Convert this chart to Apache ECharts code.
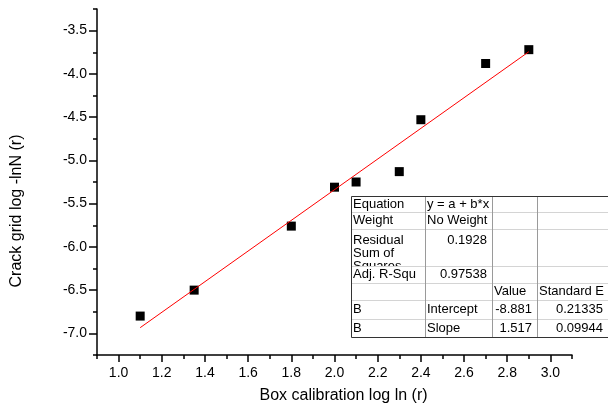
<!DOCTYPE html>
<html>
<head>
<meta charset="utf-8">
<script src="https://cdn.jsdelivr.net/npm/echarts@6/dist/echarts.min.js"></script>
<style>
  html, body { margin: 0; padding: 0; background: #fff; }
  #chart { width: 608px; height: 409px; }
</style>
</head>
<body>
<div id="chart"></div>
<script>
// measured points
var xData = [1.1, 1.35, 1.8, 2.0, 2.1, 2.3, 2.4, 2.7, 2.9];
var yData = [-6.8, -6.5, -5.76, -5.31, -5.25, -5.13, -4.53, -3.88, -3.72];

// fitted line as drawn
var fitX = [1.1, 2.9];
var fitY = [-6.934, -3.744];

// ticks
var xTicks = [1.0, 1.2, 1.4, 1.6, 1.8, 2.0, 2.2, 2.4, 2.6, 2.8, 3.0];
var xMinor = [0.9, 1.1, 1.3, 1.5, 1.7, 1.9, 2.1, 2.3, 2.5, 2.7, 2.9, 3.1];
var yTicks = [-7.0, -6.5, -6.0, -5.5, -5.0, -4.5, -4.0, -3.5];
var yMinor = [-7.25, -6.75, -6.25, -5.75, -5.25, -4.75, -4.25, -3.75, -3.25];

// fit table
var tableRows = [
  ['Equation', 'y = a + b*x', '', ''],
  ['Weight', 'No Weight', '', ''],
  ['Residual\nSum of\nSquares', '0.1928', '', ''],
  ['Adj. R-Squ', '0.97538', '', ''],
  ['', '', 'Value', 'Standard E'],
  ['B', 'Intercept', '-8.881', '0.21335'],
  ['B', 'Slope', '1.517', '0.09944']
];

var font = '"Liberation Sans", Arial, sans-serif';
var ink = '#000';

function buildTable() {
  var cols = [351, 425, 492, 537, 608];
  var rows = [196, 212, 229, 266, 283, 300, 319, 337];
  var els = [];
  els.push({ type: 'rect', shape: { x: cols[0], y: rows[0], width: cols[4] - cols[0], height: rows[7] - rows[0] },
    style: { fill: '#fff' }, z: 10 });
  tableRows.forEach(function(r, i) {
    // white cover so overflowing text of previous row gets cut
    els.push({ type: 'rect', shape: { x: cols[0] + 1, y: rows[i], width: cols[4] - cols[0] - 1, height: rows[i + 1] - rows[i] },
      style: { fill: '#fff' }, z: 10 + i * 2 });
    r.forEach(function(t, j) {
      if (!t) return;
      var num = /^-?[0-9.]+$/.test(t);
      var top = i === 2;
      els.push({ type: 'text', z: 11 + i * 2,
        style: {
          text: t, font: '13px ' + font, fill: ink, lineHeight: 13,
          x: num ? cols[j + 1] - 5 : cols[j] + 2,
          y: top ? rows[i] + 4.5 : (rows[i] + rows[i + 1]) / 2,
          textAlign: num ? 'right' : 'left',
          textVerticalAlign: top ? 'top' : 'middle'
        } });
    });
  });
  for (var i = 1; i < rows.length - 1; i++) {
    els.push({ type: 'line', z: 30, shape: { x1: cols[0], y1: rows[i] + 0.5, x2: cols[4], y2: rows[i] + 0.5 },
      style: { stroke: '#d4d4d4', lineWidth: 1 } });
  }
  for (var j = 1; j < cols.length - 1; j++) {
    els.push({ type: 'line', z: 30, shape: { x1: cols[j] + 0.5, y1: rows[0], x2: cols[j] + 0.5, y2: rows[7] },
      style: { stroke: '#9a9a9a', lineWidth: 1 } });
  }
  els.push({ type: 'rect', z: 31, shape: { x: cols[0] + 0.5, y: rows[0] + 0.5, width: cols[4] - cols[0] + 5, height: rows[7] - rows[0] },
    style: { fill: 'none', stroke: '#333', lineWidth: 1 } });
  return els;
}

var chart = echarts.init(document.getElementById('chart'), null, { renderer: 'canvas' });
chart.setOption({
  animation: false,
  backgroundColor: '#fff',
  grid: { left: 97, right: 36, top: 9, bottom: 54 },
  xAxis: [{
    type: 'value', min: 0.9, max: 3.1, position: 'bottom',
    name: 'Box calibration log ln (r)', nameLocation: 'middle', nameGap: 33,
    nameTextStyle: { color: ink, fontSize: 16, fontFamily: font, padding: [0, 0, 0, 18] },
    axisLine: { lineStyle: { color: ink, width: 1.5 } },
    axisTick: { customValues: xTicks, length: 7, lineStyle: { color: ink, width: 1.5 } },
    axisLabel: { customValues: xTicks, margin: 11, color: ink, fontSize: 14, fontFamily: font,
      formatter: function(v) { return v.toFixed(1); } },
    splitLine: { show: false }
  }, {
    type: 'value', min: 0.9, max: 3.1, position: 'bottom', gridIndex: 0,
    axisLine: { show: false },
    axisTick: { customValues: xMinor, length: 4, lineStyle: { color: ink, width: 1.5 } },
    axisLabel: { show: false },
    splitLine: { show: false }
  }],
  yAxis: [{
    type: 'value', min: -7.25, max: -3.25, position: 'left',
    name: 'Crack grid log -lnN (r)', nameLocation: 'middle', nameGap: 72, nameRotate: 90,
    nameTextStyle: { color: ink, fontSize: 16, fontFamily: font, padding: [0, 58, 0, 0] },
    axisLine: { lineStyle: { color: ink, width: 1.5 } },
    axisTick: { customValues: yTicks, length: 8, lineStyle: { color: ink, width: 1.5 } },
    axisLabel: { customValues: yTicks, margin: 10, color: ink, fontSize: 14, fontFamily: font,
      formatter: function(v) { return v.toFixed(1); } },
    splitLine: { show: false }
  }, {
    type: 'value', min: -7.25, max: -3.25, position: 'left', gridIndex: 0,
    axisLine: { show: false },
    axisTick: { customValues: yMinor, length: 4, lineStyle: { color: ink, width: 1.5 } },
    axisLabel: { show: false },
    splitLine: { show: false }
  }],
  series: [{
    type: 'scatter', symbol: 'rect', symbolSize: 9,
    itemStyle: { color: '#000', opacity: 1 },
    data: xData.map(function(x, i) { return [x, yData[i]]; }),
    z: 2
  }, {
    type: 'line', symbol: 'none',
    lineStyle: { color: '#ff0000', width: 1 },
    data: fitX.map(function(x, i) { return [x, fitY[i]]; }),
    z: 3
  }],
  graphic: buildTable()
});
</script>
</body>
</html>
